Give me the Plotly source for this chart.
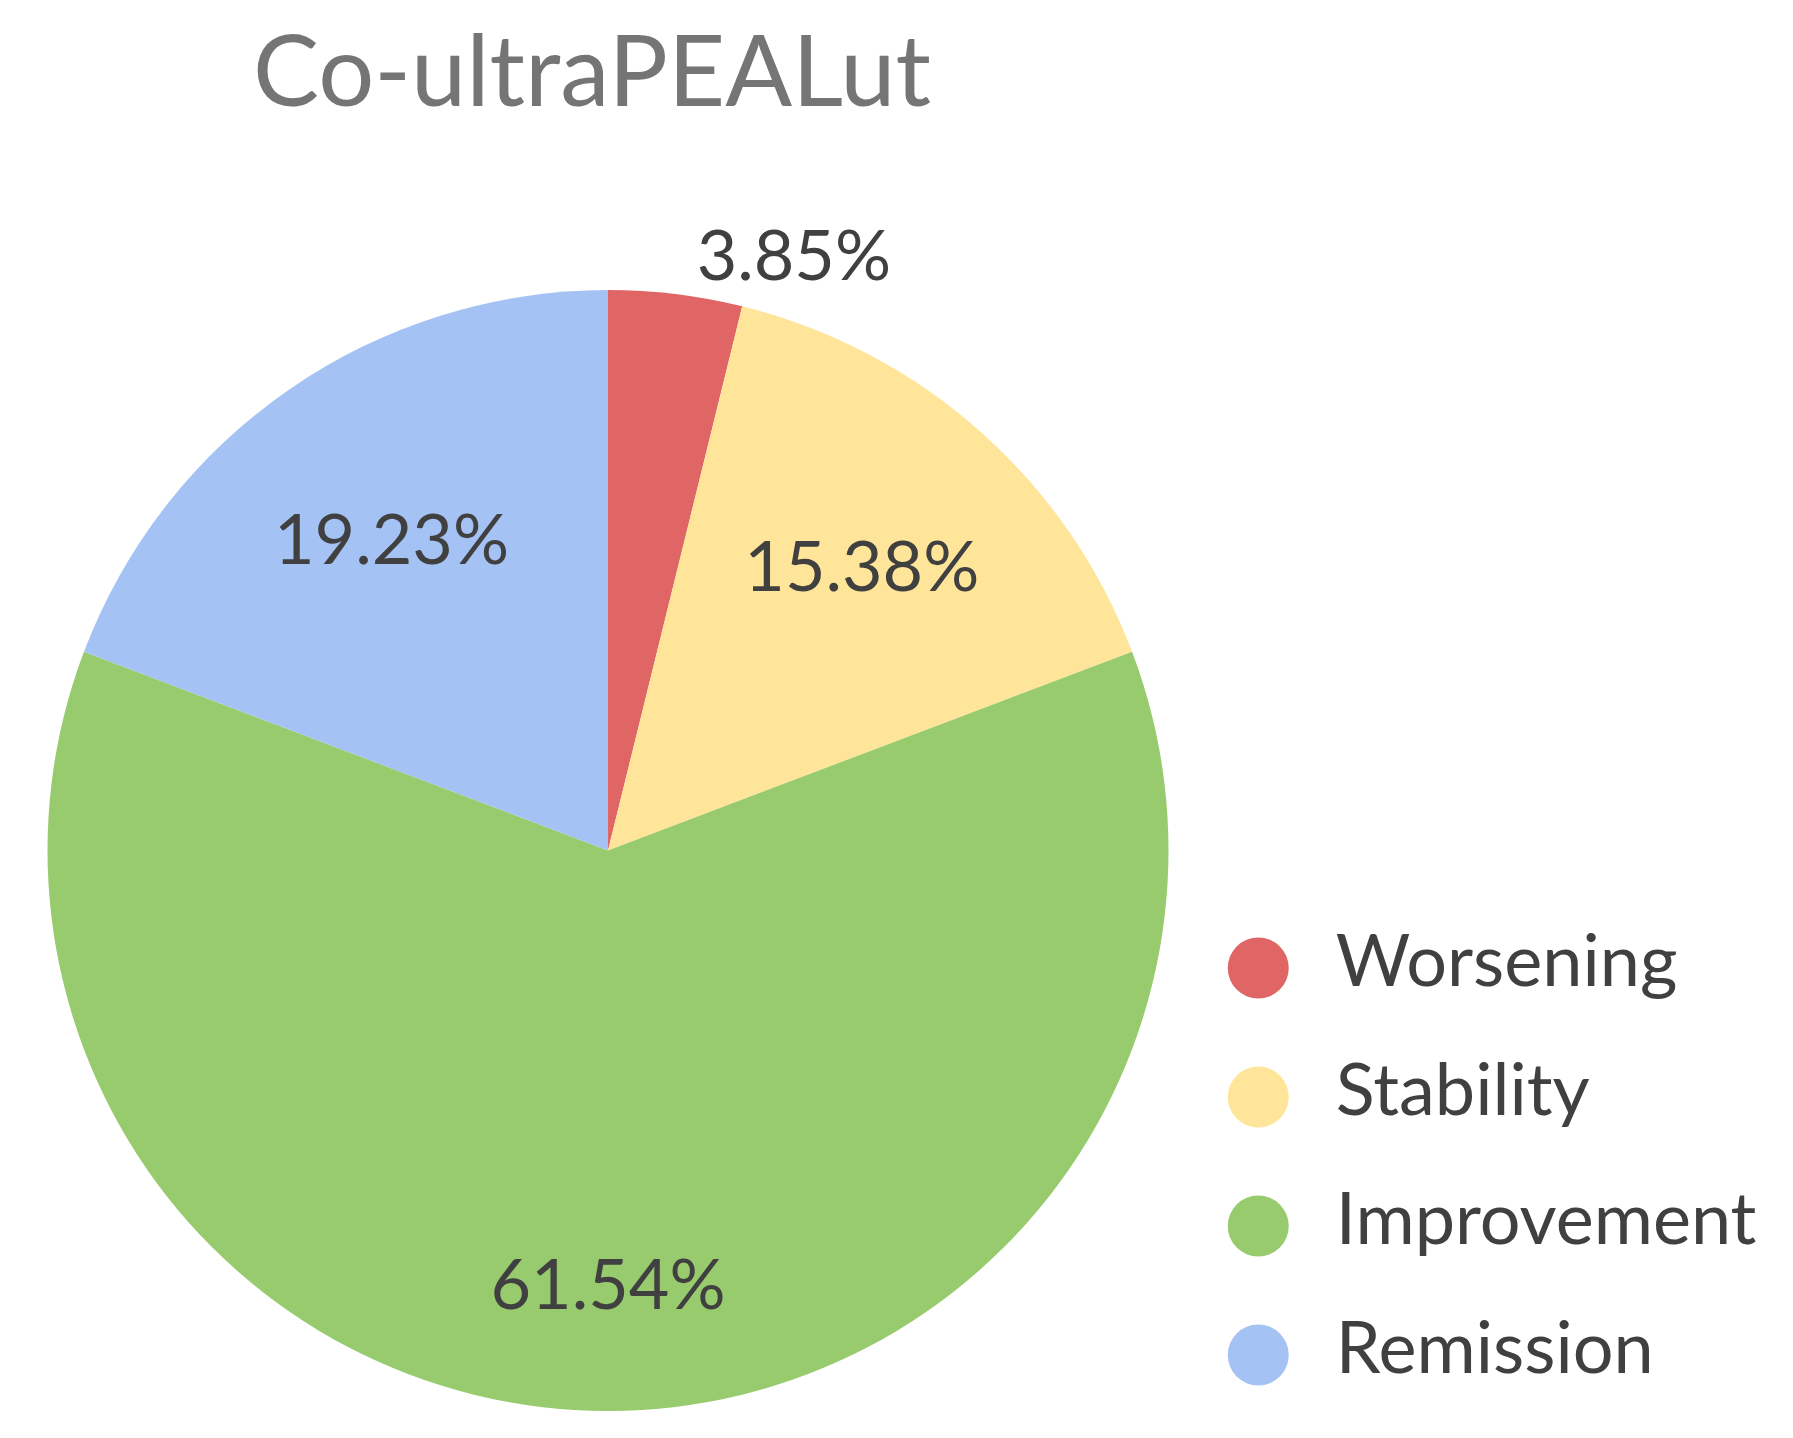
import plotly.graph_objects as go

# outcome shares (%) for Co-ultraPEALut
categories = ['Worsening', 'Stability', 'Improvement', 'Remission']
shares = [3.85, 15.38, 61.54, 19.23]
colors = ['#E06666', '#FFE599', '#98CB6E', '#A4C2F4']

font_family = 'Lato, Open Sans, sans-serif'
text_color = '#404040'
pie_domain = dict(x=[35 / 1793, 1165 / 1793], y=[1 - 1403 / 1438, 1 - 282 / 1438])
label_fmt = '%{value:.2f}%'
clear = ['rgba(0,0,0,0)'] * len(categories)

fig = go.Figure()

# coloured slices
fig.add_trace(go.Pie(
    labels=categories,
    values=shares,
    sort=False,
    direction='clockwise',
    rotation=0,
    marker=dict(colors=colors, line=dict(width=0)),
    textinfo='none',
    domain=pie_domain,
    showlegend=False,
    hoverinfo='label+percent',
))

# transparent rings on top, only used to place the percentage labels
# outer ring: worsening (outside) and improvement
fig.add_trace(go.Pie(
    labels=categories,
    values=shares,
    sort=False,
    direction='clockwise',
    rotation=0,
    hole=0.54,
    marker=dict(colors=clear, line=dict(width=0)),
    texttemplate=[label_fmt, '', label_fmt, ''],
    textposition=['outside', 'inside', 'inside', 'inside'],
    insidetextorientation='horizontal',
    textfont=dict(family=font_family, size=70, color=text_color),
    domain=pie_domain,
    showlegend=False,
    hoverinfo='skip',
))
# inner ring: stability and remission
fig.add_trace(go.Pie(
    labels=categories,
    values=shares,
    sort=False,
    direction='clockwise',
    rotation=0,
    hole=0.36,
    marker=dict(colors=clear, line=dict(width=0)),
    texttemplate=['', label_fmt, '', label_fmt],
    textposition='inside',
    insidetextorientation='horizontal',
    textfont=dict(family=font_family, size=70, color=text_color),
    domain=pie_domain,
    showlegend=False,
    hoverinfo='skip',
))

# legend drawn as round markers on a hidden axis
fig.add_trace(go.Scatter(
    x=[0] * len(categories), y=categories,
    mode='markers',
    marker=dict(size=61, color=colors, line=dict(width=0)),
    showlegend=False, hoverinfo='skip',
))
fig.add_trace(go.Scatter(
    x=[2.5] * len(categories), y=categories,
    mode='text', text=categories,
    textposition='middle right',
    textfont=dict(family=font_family, size=72, color=text_color),
    showlegend=False, hoverinfo='skip',
))

fig.update_layout(
    width=1793, height=1438,
    margin=dict(l=0, r=0, t=0, b=0),
    paper_bgcolor='white', plot_bgcolor='white',
    title=dict(text='Co-ultraPEALut', x=245 / 1793, xanchor='left',
               y=1 - 63 / 1438, yanchor='middle',
               font=dict(family=font_family, size=99, color='#757575')),
    xaxis=dict(domain=[0.68, 1.0], range=[-1, 17.5], visible=False, fixedrange=True),
    yaxis=dict(domain=[1 - 1411.5 / 1438, 1 - 895.5 / 1438], range=[3.5, -0.5],
               type='category', visible=False, fixedrange=True),
)

fig.write_html("out.html")
